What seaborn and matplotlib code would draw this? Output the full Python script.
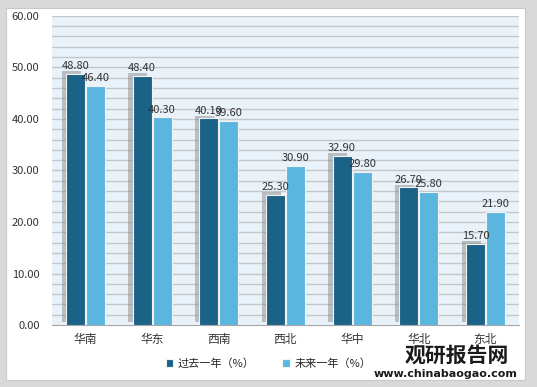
import pandas as pd
import matplotlib.pyplot as plt
import matplotlib.patheffects as pe
from matplotlib.patches import Rectangle
import seaborn as sns

regions = ['华南', '华东', '西南', '西北', '华中', '华北', '东北']
past_year = [48.80, 48.40, 40.10, 25.30, 32.90, 26.70, 15.70]
next_year = [46.40, 40.30, 39.60, 30.90, 29.80, 25.80, 21.90]
series = ['过去一年（%）', '未来一年（%）']
colors = ['#1A6387', '#5BB6DF']

df = pd.DataFrame({
    'region': regions * 2,
    'value': past_year + next_year,
    'series': [series[0]] * len(regions) + [series[1]] * len(regions),
})

sns.set_style('white')
plt.rcParams['font.family'] = ['Noto Sans CJK SC', 'DejaVu Sans']

fig = plt.figure(figsize=(5.37, 3.87), dpi=100)
fig.patch.set_facecolor('#D9D9D9')
fig.patches.append(Rectangle((0.012, 0.018), 0.965, 0.962, transform=fig.transFigure,
                             facecolor='white', edgecolor='#C8C8C8', lw=0.8, zorder=-5))

ax = fig.add_axes([0.097, 0.160, 0.869, 0.799])
ax.set_zorder(2)
ax.set_facecolor('#EAF2F9')
sns.barplot(data=df, x='region', y='value', hue='series', palette=colors, saturation=1,
            width=0.6, gap=0.05, ax=ax, edgecolor='#F2F2F2', linewidth=0.8, zorder=3)

# horizontal grid every 2
for y in range(2, 61, 2):
    ax.axhline(y, color='#C3C7CB', lw=1.0, zorder=1)

# shadow on the dark bars
for bar in ax.containers[0]:
    bar.set_path_effects([pe.SimplePatchShadow(offset=(-3, 2), shadow_rgbFace='#7F7F7F', alpha=0.45),
                          pe.Normal()])

for c in ax.containers:
    ax.bar_label(c, fmt='%.2f', padding=2, fontsize=8, color='#333333')

ax.set_ylim(0, 60)
ax.set_yticks(range(0, 61, 10))
ax.set_yticklabels([f'{v:.2f}' for v in range(0, 61, 10)])
ax.set_xlim(-0.5, len(regions) - 0.5)
ax.set_xlabel('')
ax.set_ylabel('')
ax.tick_params(axis='y', labelsize=8, colors='#333333', length=0, pad=9)
ax.tick_params(axis='x', labelsize=8.5, colors='#333333', length=0, pad=6)
for s in ['top', 'right', 'left']:
    ax.spines[s].set_visible(False)
ax.spines['bottom'].set_color('#A6A6A6')

ax.legend(loc='lower center', bbox_to_anchor=(0.5, 0.02), bbox_transform=fig.transFigure,
          ncol=2, fontsize=8, frameon=True, fancybox=False, edgecolor='white',
          handlelength=0.7, handleheight=0.7, handletextpad=0.4, columnspacing=2.5)

fig.text(0.85, 0.065, '观研报告网', fontsize=15, fontweight='bold', color='#1a1a1a', ha='center')
fig.text(0.83, 0.025, 'www.chinabaogao.com', fontsize=8, fontweight='bold', color='#1a1a1a',
         ha='center', family='DejaVu Sans')

fig.savefig('out.png', dpi=100)
